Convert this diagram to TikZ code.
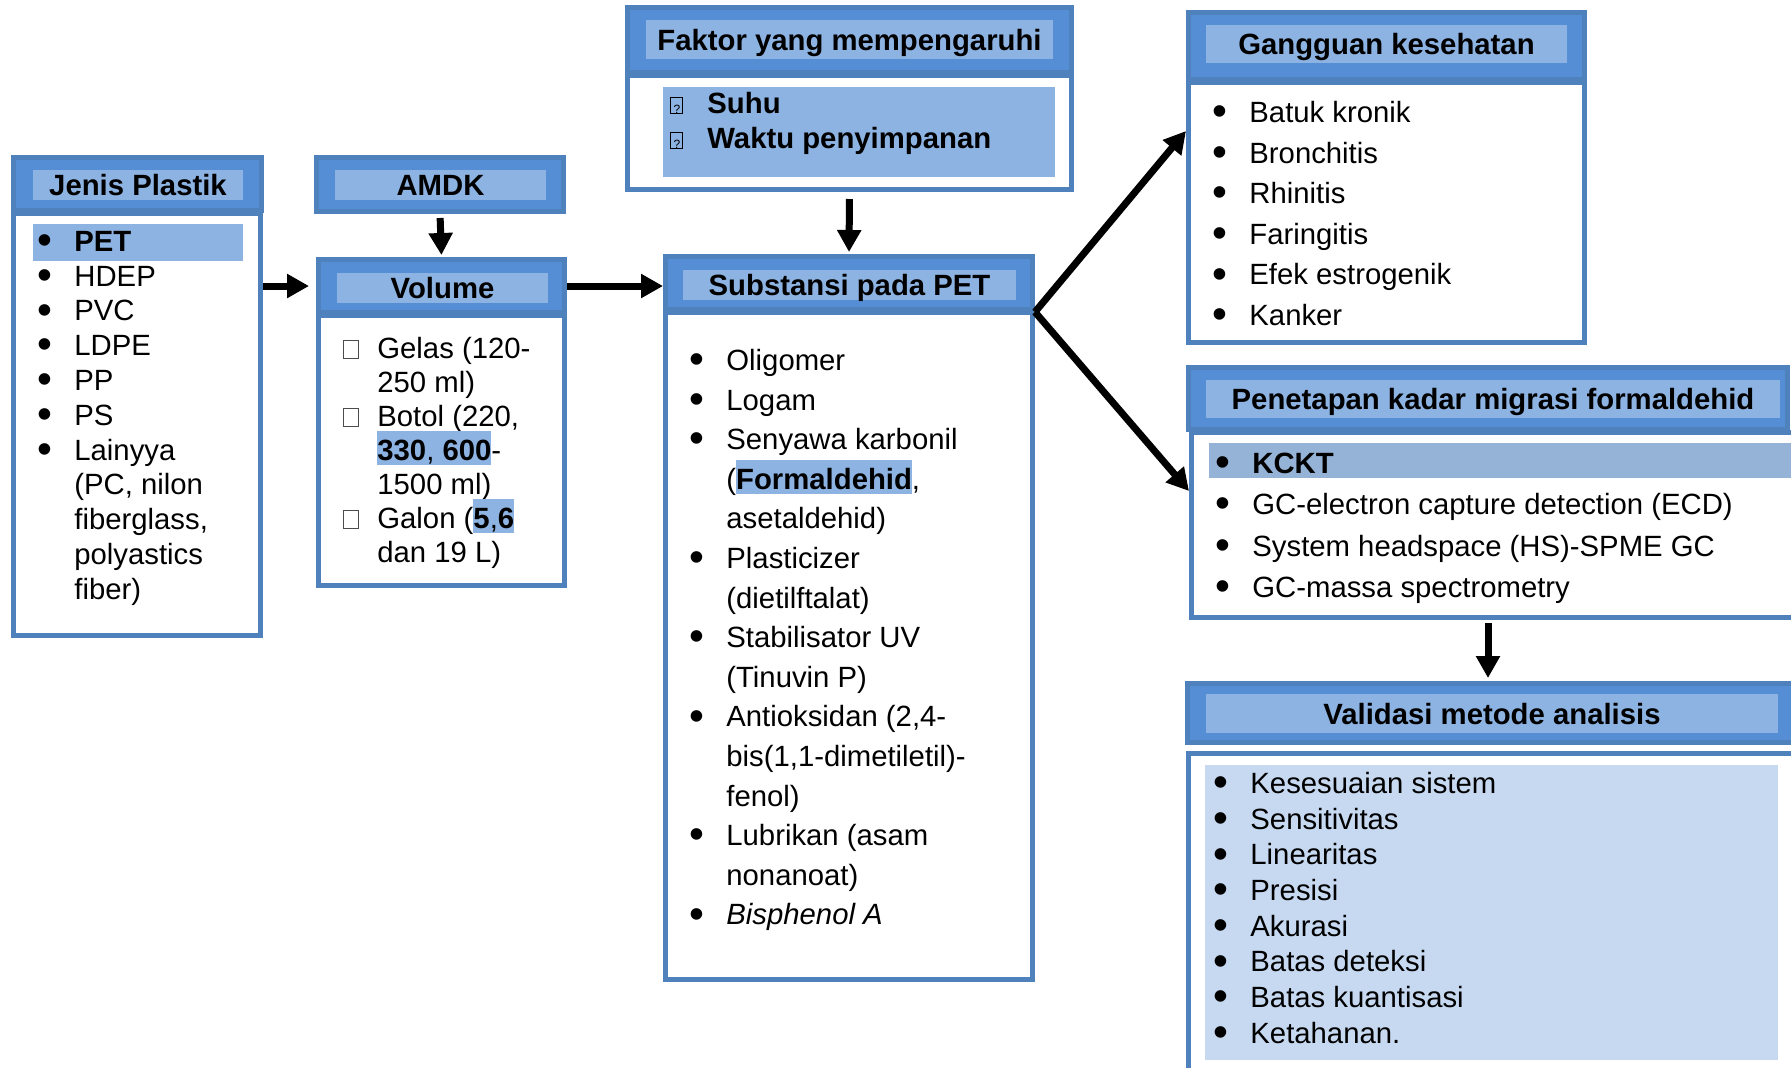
\documentclass[tikz,border=0pt]{standalone}
\usepackage{fontspec}
\setmainfont{Liberation Sans}
\usetikzlibrary{arrows.meta, fit}
\definecolor{hdrLine}{RGB}{79,129,189}
\definecolor{hdrFill}{RGB}{85,142,213}
\definecolor{bandFill}{RGB}{141,179,226}
\definecolor{selFill}{RGB}{149,179,215}
\definecolor{paleFill}{RGB}{198,217,241}
% list markers: bullet, empty box, box with question mark
\newcommand{\bul}{\makebox[18.5pt][l]{\raisebox{-1.6pt}{\scalebox{1.45}{\textbullet}}}}
\newcommand{\sqb}{\makebox[18.5pt][l]{\hspace{1.5pt}\fboxsep=0pt\fboxrule=0.4pt\textcolor{black!70}{\fbox{\rule{0pt}{9pt}\hspace{6.7pt}}}}}
\newcommand{\qbx}{\makebox[18.5pt][l]{\fboxsep=0pt\fboxrule=0.5pt\fbox{\makebox[5.5pt]{\rule{0pt}{7.5pt}\fontsize{6pt}{6pt}\selectfont ?}}}}
\newcommand{\li}[1]{\strut\bul #1}
\newcommand{\lv}[1]{\strut\sqb #1}
\newcommand{\lqb}[1]{\strut\qbx #1}
\newcommand{\lc}[1]{\strut\hspace*{18.5pt}#1}
\newcommand{\hl}[1]{\smash{\fboxsep=0pt\colorbox{bandFill}{\rule[-2.5pt]{0pt}{17pt}#1}}}
\begin{document}
\begin{tikzpicture}[x=0.5pt, y=-0.5pt,
  hdr/.style={draw=hdrLine, fill=hdrFill, line width=2.5pt, inner sep=0pt},
  band/.style={fill=bandFill, inner sep=0pt, text height=10.5pt, text depth=0pt,
    font=\bfseries\fontsize{14.65pt}{17pt}\selectfont},
  bodybox/.style={draw=hdrLine, fill=white, line width=2.5pt, inner sep=0pt},
  items/.style={anchor=north west, inner sep=0pt, align=left, font=\fontsize{14.65pt}{#1}\selectfont},
  arr/.style={-{Triangle[width=11.5pt,length=11pt]}, line width=3.5pt}]
\useasboundingbox (0,0) rectangle (1791,1067);
\clip (0,0) rectangle (1791,1067);
% box bodies
\node[bodybox, fit={(13.5,213.5) (260.5,635.5)}] (jenisB) {};
\node[bodybox, fit={(318.5,315.5) (564.5,585.5)}] (volB) {};
\node[bodybox, fit={(627.5,75.5) (1071.5,189.5)}] (faktorB) {};
\node[bodybox, fit={(665.5,312.5) (1032.5,979.5)}] (subB) {};
\node[bodybox, fit={(1188.5,82.5) (1584.5,342.5)}] (gangB) {};
\node[bodybox, fit={(1191.5,432.5) (1810,617.5)}] (penB) {};
\node[bodybox, fit={(1188.5,753.5) (1810,1090)}] (valB) {};
% headers
\node[hdr, fit={(13.5,157.5) (261.5,210.5)}] (jenisH) {};
\node[hdr, fit={(316.5,157.5) (563.5,211.5)}] (amdkH) {};
\node[hdr, fit={(318.5,259.5) (564.5,312.5)}] (volH) {};
\node[hdr, fit={(627.5,7.5) (1071.5,72.5)}] (faktorH) {};
\node[hdr, fit={(665.5,256.5) (1032.5,309.5)}] (subH) {};
\node[hdr, fit={(1188.5,12.5) (1584.5,79.5)}] (gangH) {};
\node[hdr, fit={(1188.5,367.5) (1787.5,429.5)}] (penH) {};
\node[hdr, fit={(1187.5,683.5) (1810,742.5)}] (valH) {};
% title bands
\node[band, minimum width=105pt, minimum height=15pt] (jenisT) at (138,185) {Jenis Plastik};
\node[band, minimum width=105.5pt, minimum height=15pt] (amdkT) at (440.5,185) {AMDK};
\node[band, minimum width=105.5pt, minimum height=15pt] (volT) at (442.5,288) {Volume};
\node[band, minimum width=203.5pt, minimum height=19.5pt] (faktorT) at (849.5,39.5) {Faktor yang mempengaruhi};
\node[band, minimum width=166.5pt, minimum height=15pt] (subT) at (849.5,285) {Substansi pada PET};
\node[band, minimum width=180.5pt, minimum height=19pt] (gangT) at (1386.5,44) {Gangguan kesehatan};
\node[band, minimum width=287pt, minimum height=19pt] (penT) at (1493,399) {Penetapan kadar migrasi formaldehid};
\node[band, minimum width=286pt, minimum height=19.5pt] (valT) at (1492,713.5) {Validasi metode analisis};
% highlighted rows
\fill[bandFill] (33,224) rectangle (243,261);
\fill[bandFill] (663,87) rectangle (1055,177);
\fill[selFill] (1209,443) rectangle (1800,478);
\fill[paleFill] (1205,765) rectangle (1778,1060);
% lists
\node[items=17.4pt] (jenisL) at (37,226.6) {\li{\textbf{PET}}\\ \li{HDEP}\\ \li{PVC}\\ \li{LDPE}\\ \li{PP}\\ \li{PS}\\
  \li{Lainyya}\\ \lc{(PC, nilon}\\ \lc{fiberglass,}\\ \lc{polyastics}\\ \lc{fiber)}};
\node[items=17pt] (volL) at (340,334.2) {\lv{Gelas (120-}\\ \lc{250 ml)}\\ \lv{Botol (220,}\\
  \lc{\hl{\textbf{330}, \textbf{600}}-}\\ \lc{1500 ml)}\\ \lv{Galon (\hl{\textbf{5},\textbf{6}}}\\ \lc{dan 19 L)}};
\node[items=17.5pt] (faktorL) at (670,88.5) {\lqb{\textbf{Suhu}}\\ \lqb{\textbf{Waktu penyimpanan}}};
\node[items=19.8pt] (subL) at (689,342.3) {\li{Oligomer}\\ \li{Logam}\\ \li{Senyawa karbonil}\\
  \lc{(\hl{\textbf{Formaldehid}},}\\ \lc{asetaldehid)}\\ \li{Plasticizer}\\ \lc{(dietilftalat)}\\
  \li{Stabilisator UV}\\ \lc{(Tinuvin P)}\\ \li{Antioksidan (2,4-}\\ \lc{bis(1,1-dimetiletil)-}\\
  \lc{fenol)}\\ \li{Lubrikan (asam}\\ \lc{nonanoat)}\\ \li{\textit{Bisphenol A}}};
\node[items=20.3pt] (gangL) at (1212,93.6) {\li{Batuk kronik}\\ \li{Bronchitis}\\ \li{Rhinitis}\\
  \li{Faringitis}\\ \li{Efek estrogenik}\\ \li{Kanker}};
\node[items=20.65pt] (penL) at (1215,444.1) {\li{\textbf{KCKT}}\\ \li{GC-electron capture detection (ECD)}\\
  \li{System headspace (HS)-SPME GC}\\ \li{GC-massa spectrometry}};
\node[items=17.85pt] (valL) at (1213,768) {\li{Kesesuaian sistem}\\ \li{Sensitivitas}\\ \li{Linearitas}\\
  \li{Presisi}\\ \li{Akurasi}\\ \li{Batas deteksi}\\ \li{Batas kuantisasi}\\ \li{Ketahanan.}};
% connectors
\draw[arr, shorten >=3.5pt] (jenisB.east |- volH.west) -- (volH.west);
\draw[arr, shorten <=2pt, shorten >=1pt] (amdkH.south) -- (volH.north);
\draw[arr] (volH.east) -- (volH.east -| subH.west);
\draw[arr, shorten <=3.5pt, shorten >=1pt] (faktorB.south) -- (subH.north);
\draw[arr] (subH.south east) -- ([yshift=40.75pt]gangB.west);
\draw[arr] (subH.south east) -- ([yshift=17pt]penB.west);
\draw[arr, shorten <=1.5pt, shorten >=1.5pt] (penH.center |- penB.south) -- (penH.center |- valH.north);
\end{tikzpicture}
\end{document}
